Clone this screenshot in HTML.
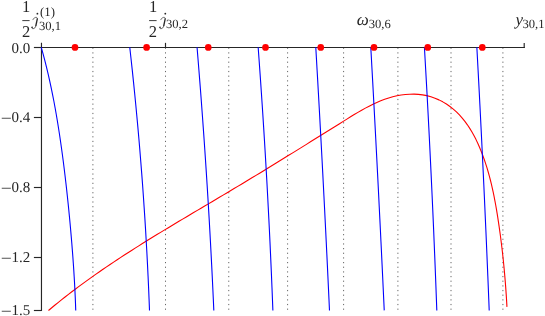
<!DOCTYPE html>
<html><head><meta charset="utf-8"><title>plot</title>
<style>
html,body{margin:0;padding:0;background:#fff;}
body{width:545px;height:316px;overflow:hidden;font-family:"Liberation Serif",serif;}
svg{display:block;}
.ls{font-family:"Liberation Serif",serif;will-change:transform;text-rendering:geometricPrecision;}
</style></head><body>
<svg width="545" height="316" viewBox="0 0 545 316">
<rect width="545" height="316" fill="#fff"/>
<g stroke="#666666" stroke-width="1" stroke-dasharray="1.2 3.46" fill="none">
<path d="M92.9,47.64V310.4"/>
<path d="M165.5,47.64V310.4"/>
<path d="M228.75,47.64V310.4"/>
<path d="M287.6,47.64V310.4"/>
<path d="M343.6,47.64V310.4"/>
<path d="M397.9,47.64V310.4"/>
<path d="M451.0,47.64V310.4"/>
<path d="M502.9,47.64V310.4"/>
</g>
<g stroke="#262626" stroke-width="1.15" fill="none">
<path d="M41.47,46.9V311.05"/>
<path d="M40.9,47.5H524.78"/>
<path d="M33.9,47.5H41.5"/>
<path d="M33.9,117.5H41.5"/>
<path d="M33.9,187.5H41.5"/>
<path d="M33.9,257.5H41.5"/>
<path d="M33.9,310.5H41.5"/>
<path d="M41.47,47.5V42.75"/>
<path d="M165.5,47.5V42.85"/>
<path d="M524.2,48.05V42.95"/>
</g>
<path d="M48.46,310.46 L51.74,307.72 L55.05,305 L58.37,302.31 L61.71,299.64 L65.07,297 L68.44,294.37 L71.83,291.77 L75.24,289.2 L78.66,286.64 L82.1,284.1 L85.55,281.58 L89.01,279.09 L92.49,276.61 L95.99,274.15 L99.49,271.71 L103.01,269.28 L106.54,266.87 L110.08,264.48 L113.63,262.1 L117.2,259.74 L120.77,257.39 L124.35,255.06 L127.94,252.74 L131.54,250.43 L135.15,248.13 L138.77,245.85 L142.39,243.58 L146.02,241.31 L149.66,239.06 L153.3,236.81 L156.95,234.58 L160.61,232.35 L164.27,230.13 L167.93,227.92 L171.6,225.71 L175.27,223.51 L178.94,221.31 L182.62,219.12 L186.29,216.93 L189.97,214.74 L193.65,212.56 L197.33,210.38 L201.01,208.21 L204.69,206.03 L208.37,203.85 L212.05,201.68 L215.73,199.5 L219.4,197.32 L223.08,195.14 L226.75,192.96 L230.41,190.78 L234.08,188.59 L237.73,186.4 L241.39,184.2 L245.04,182 L248.69,179.8 L252.33,177.59 L255.97,175.38 L259.61,173.17 L263.25,170.95 L266.89,168.73 L270.52,166.51 L274.15,164.28 L277.79,162.05 L281.42,159.82 L285.05,157.58 L288.67,155.34 L292.3,153.1 L295.93,150.85 L299.56,148.6 L303.19,146.35 L306.82,144.1 L310.45,141.84 L314.09,139.58 L317.72,137.31 L321.36,135.05 L325,132.78 L328.64,130.5 L332.28,128.23 L335.92,125.95 L339.57,123.67 L343.23,121.39 L346.88,119.1 L350.54,116.83 L354.22,114.58 L357.91,112.37 L361.63,110.22 L365.37,108.14 L369.15,106.14 L372.96,104.25 L376.82,102.46 L380.72,100.81 L384.68,99.31 L388.69,97.97 L392.76,96.8 L396.9,95.82 L401.11,95.05 L405.38,94.5 L409.68,94.19 L413.99,94.14 L418.29,94.35 L422.56,94.85 L426.78,95.65 L430.93,96.76 L434.99,98.18 L438.94,99.88 L442.76,101.85 L446.44,104.06 L449.95,106.49 L453.29,109.12 L456.44,111.94 L459.42,114.93 L462.24,118.09 L464.89,121.39 L467.39,124.82 L469.75,128.37 L471.97,132.04 L474.06,135.79 L476.03,139.62 L477.88,143.53 L479.62,147.48 L481.26,151.48 L482.8,155.5 L484.26,159.54 L485.63,163.6 L486.93,167.68 L488.14,171.77 L489.29,175.88 L490.37,180 L491.39,184.13 L492.35,188.28 L493.25,192.44 L494.11,196.62 L494.92,200.8 L495.69,204.99 L496.42,209.19 L497.12,213.4 L497.79,217.62 L498.43,221.84 L499.06,226.07 L499.66,230.3 L500.24,234.54 L500.8,238.78 L501.33,243.02 L501.85,247.27 L502.35,251.53 L502.82,255.78 L503.28,260.04 L503.71,264.3 L504.12,268.56 L504.52,272.82 L504.89,277.08 L505.24,281.35 L505.58,285.61 L505.89,289.87 L506.18,294.13 L506.46,298.39 L506.71,302.65 L506.95,306.9" stroke="#ff0000" stroke-width="1.1" fill="none" stroke-linejoin="round"/>
<g stroke="#0000ff" stroke-width="1.1" fill="none" stroke-linejoin="round">
<path d="M41.26,47.3 L43.14,54.05 L44.92,60.79 L46.61,67.54 L48.22,74.28 L49.74,81.03 L51.19,87.78 L52.57,94.52 L53.88,101.27 L55.13,108.02 L56.32,114.76 L57.46,121.51 L58.54,128.25 L59.59,135 L60.58,141.75 L61.54,148.49 L62.46,155.24 L63.35,161.98 L64.2,168.73 L65.02,175.48 L65.81,182.22 L66.58,188.97 L67.31,195.72 L68.02,202.46 L68.71,209.21 L69.37,215.95 L70.01,222.7 L70.62,229.45 L71.21,236.19 L71.78,242.94 L72.31,249.68 L72.83,256.43 L73.31,263.18 L73.76,269.92 L74.18,276.67 L74.57,283.42 L74.92,290.16 L75.24,296.91 L75.51,303.65 L75.74,310.4"/>
<path d="M129.76,47.3 L131.03,58.74 L132.27,70.18 L133.47,81.62 L134.62,93.06 L135.75,104.5 L136.83,115.93 L137.88,127.37 L138.89,138.81 L139.86,150.25 L140.79,161.69 L141.69,173.13 L142.55,184.57 L143.37,196.01 L144.15,207.45 L144.9,218.89 L145.6,230.33 L146.27,241.77 L146.91,253.2 L147.5,264.64 L148.06,276.08 L148.58,287.52 L149.06,298.96 L149.51,310.4"/>
<path d="M197.05,47.3 L197.99,58.74 L198.92,70.18 L199.82,81.62 L200.71,93.06 L201.57,104.5 L202.42,115.93 L203.24,127.37 L204.05,138.81 L204.84,150.25 L205.61,161.69 L206.36,173.13 L207.09,184.57 L207.8,196.01 L208.49,207.45 L209.16,218.89 L209.81,230.33 L210.44,241.77 L211.05,253.2 L211.65,264.64 L212.22,276.08 L212.77,287.52 L213.31,298.96 L213.82,310.4"/>
<path d="M258.16,47.3 L259,58.74 L259.82,70.18 L260.62,81.62 L261.4,93.06 L262.17,104.5 L262.92,115.93 L263.65,127.37 L264.36,138.81 L265.05,150.25 L265.73,161.69 L266.39,173.13 L267.03,184.57 L267.65,196.01 L268.25,207.45 L268.84,218.89 L269.41,230.33 L269.96,241.77 L270.49,253.2 L271,264.64 L271.5,276.08 L271.98,287.52 L272.44,298.96 L272.88,310.4"/>
<path d="M315.78,47.3 L316.45,58.74 L317.1,70.18 L317.76,81.62 L318.4,93.06 L319.04,104.5 L319.68,115.93 L320.3,127.37 L320.92,138.81 L321.54,150.25 L322.15,161.69 L322.75,173.13 L323.34,184.57 L323.93,196.01 L324.52,207.45 L325.09,218.89 L325.66,230.33 L326.23,241.77 L326.79,253.2 L327.34,264.64 L327.88,276.08 L328.42,287.52 L328.96,298.96 L329.48,310.4"/>
<path d="M370.79,47.3 L371.43,58.74 L372.06,70.18 L372.69,81.62 L373.31,93.06 L373.93,104.5 L374.54,115.93 L375.15,127.37 L375.75,138.81 L376.35,150.25 L376.95,161.69 L377.54,173.13 L378.12,184.57 L378.7,196.01 L379.27,207.45 L379.84,218.89 L380.41,230.33 L380.97,241.77 L381.53,253.2 L382.08,264.64 L382.62,276.08 L383.16,287.52 L383.7,298.96 L384.23,310.4"/>
<path d="M424.41,47.3 L425.07,58.74 L425.72,70.18 L426.36,81.62 L426.99,93.06 L427.6,104.5 L428.21,115.93 L428.8,127.37 L429.38,138.81 L429.95,150.25 L430.51,161.69 L431.06,173.13 L431.6,184.57 L432.13,196.01 L432.65,207.45 L433.15,218.89 L433.65,230.33 L434.13,241.77 L434.61,253.2 L435.07,264.64 L435.52,276.08 L435.96,287.52 L436.39,298.96 L436.81,310.4"/>
<path d="M476.85,47.3 L477.47,58.74 L478.09,70.18 L478.69,81.62 L479.29,93.06 L479.88,104.5 L480.46,115.93 L481.03,127.37 L481.6,138.81 L482.16,150.25 L482.71,161.69 L483.26,173.13 L483.8,184.57 L484.33,196.01 L484.85,207.45 L485.36,218.89 L485.87,230.33 L486.37,241.77 L486.86,253.2 L487.34,264.64 L487.82,276.08 L488.29,287.52 L488.75,298.96 L489.21,310.4"/>
</g>
<g fill="#ff0000">
<circle cx="75.0" cy="47.4" r="3.35"/>
<circle cx="146.6" cy="47.4" r="3.35"/>
<circle cx="208.25" cy="47.4" r="3.35"/>
<circle cx="265.5" cy="47.4" r="3.35"/>
<circle cx="320.75" cy="47.4" r="3.35"/>
<circle cx="374.0" cy="47.4" r="3.35"/>
<circle cx="427.75" cy="47.4" r="3.35"/>
<circle cx="482.3" cy="47.4" r="3.35"/>
</g>
<g class="ls" font-size="15" fill="#262626" text-anchor="end">
<text x="30.3" y="53.10">0.0</text>
<text x="30.3" y="122.30">0.4</text>
<text x="30.3" y="192.40">0.8</text>
<text x="30.3" y="262.30">1.2</text>
<text x="30.3" y="314.90">1.5</text>
</g>
<g stroke="#262626" stroke-width="0.8" fill="none">
<path d="M1.75,118.25H10.85"/>
<path d="M1.75,188.25H10.85"/>
<path d="M1.75,258.25H10.85"/>
<path d="M1.75,311.25H10.85"/>
</g>
<g class="ls" fill="#262626">
<text x="26.1" y="12.2" font-size="16.5" text-anchor="middle">1</text>
<path d="M22.3,20.6H29.6" stroke="#262626" stroke-width="0.9"/>
<text x="26.0" y="37.3" font-size="16.5" text-anchor="middle">2</text>
<g transform="translate(-127.9,0)" fill="none" stroke="#262626" stroke-linecap="round"><path d="M160.8,19.7C161.5,18.3 162.6,17.35 163.8,17.35C164.8,17.35 165.3,17.8 165.3,18.5" stroke-width="0.65"/><path d="M165.3,18.3L163.7,26.0" stroke-width="1.3" stroke-linecap="butt"/><path d="M163.7,25.9C163.3,27.8 162.3,28.65 161.0,28.65C160.1,28.65 159.55,28.2 159.6,27.5" stroke-width="0.7"/><circle cx="160.05" cy="27.3" r="0.8" fill="#262626" stroke="none"/><circle cx="165.3" cy="13.7" r="0.9" fill="#262626" stroke="none"/></g>
<text x="40.0" y="15.9" font-size="12.8">(1)</text>
<text x="38.9" y="30.3" font-size="12.6">30,1</text>
<text x="153.0" y="12.2" font-size="16.5" text-anchor="middle">1</text>
<path d="M149.1,20.6H156.6" stroke="#262626" stroke-width="0.9"/>
<text x="152.9" y="37.3" font-size="16.5" text-anchor="middle">2</text>
<g transform="translate(0,0)" fill="none" stroke="#262626" stroke-linecap="round"><path d="M160.8,19.7C161.5,18.3 162.6,17.35 163.8,17.35C164.8,17.35 165.3,17.8 165.3,18.5" stroke-width="0.65"/><path d="M165.3,18.3L163.7,26.0" stroke-width="1.3" stroke-linecap="butt"/><path d="M163.7,25.9C163.3,27.8 162.3,28.65 161.0,28.65C160.1,28.65 159.55,28.2 159.6,27.5" stroke-width="0.7"/><circle cx="160.05" cy="27.3" r="0.8" fill="#262626" stroke="none"/><circle cx="165.3" cy="13.7" r="0.9" fill="#262626" stroke="none"/></g>
<text x="166.0" y="28.0" font-size="12.6">30,2</text>
<text x="356.7" y="24.8" font-size="17" font-style="italic">ω</text>
<text x="368.7" y="28.2" font-size="12.6">30,6</text>
<text x="515.4" y="24.8" font-size="17" font-style="italic">y</text>
<text x="522.4" y="28.0" font-size="12.6">30,1</text>
</g>
</svg>
</body></html>
